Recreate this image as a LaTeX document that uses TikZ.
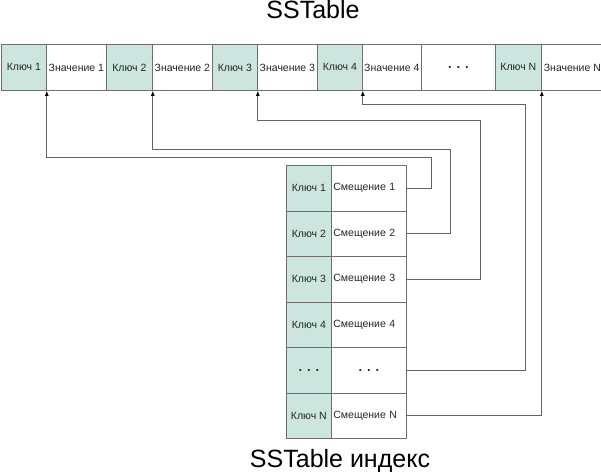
\documentclass[tikz,border=0pt]{standalone}
\usepackage{fontspec}
\setmainfont{Liberation Sans}
\usetikzlibrary{arrows.meta}
\definecolor{keyfill}{RGB}{204,229,222}
\definecolor{bord}{RGB}{110,110,110}
\definecolor{conn}{RGB}{100,100,100}
\begin{document}
\begin{tikzpicture}[x=1pt,y=-1pt,
  cell/.style={draw=bord,line width=0.8pt,inner sep=0pt,anchor=north west,
    minimum height=46pt,font=\fontsize{10.5}{12}\selectfont,text=black!85},
  keycell/.style={cell,fill=keyfill},
  valcell/.style={cell,fill=white},
  offcell/.style={cell,fill=white,minimum height=45.5pt,inner xsep=2pt,text width=71pt,align=left},
  arr/.style={draw=conn,line width=0.8pt,-{Latex[length=5pt,width=4pt,color=black]}},
  dots/.style={font=\fontsize{13}{13}\bfseries\selectfont}]
\useasboundingbox (0,0) rectangle (601,472);
% titles
\node[anchor=base,font=\fontsize{25}{25}\selectfont] (t1) at (313,18.5) {SSTable};
\node[anchor=base,font=\fontsize{25}{25}\selectfont] (t2) at (340,467) {SSTable индекс};
% top row
\node[keycell,minimum width=45pt] (k1) at (1,44) {Ключ 1};
\node[valcell,minimum width=60pt] (v1) at (46,44) {Значение 1};
\node[keycell,minimum width=46pt] (k2) at (106,44) {Ключ 2};
\node[valcell,minimum width=60pt] (v2) at (152,44) {Значение 2};
\node[keycell,minimum width=45pt] (k3) at (212,44) {Ключ 3};
\node[valcell,minimum width=60pt] (v3) at (257,44) {Значение 3};
\node[keycell,minimum width=45pt] (k4) at (317,44) {Ключ 4};
\node[valcell,minimum width=59pt] (v4) at (362,44) {Значение 4};
\node[valcell,minimum width=74pt,dots] (vd) at (421,44) {. . .};
\node[keycell,minimum width=46pt] (kn) at (495,44) {Ключ N};
\node[valcell,minimum width=62pt] (vn) at (541,44) {Значение N};
% index table
\node[keycell,minimum width=45pt,minimum height=45.5pt] (i1) at (286,165) {Ключ 1};
\node[offcell] (o1) at (331,165) {Смещение 1};
\node[keycell,minimum width=45pt,minimum height=45.5pt] (i2) at (286,210.5) {Ключ 2};
\node[offcell] (o2) at (331,210.5) {Смещение 2};
\node[keycell,minimum width=45pt,minimum height=45.5pt] (i3) at (286,256) {Ключ 3};
\node[offcell] (o3) at (331,256) {Смещение 3};
\node[keycell,minimum width=45pt,minimum height=45.5pt] (i4) at (286,301.5) {Ключ 4};
\node[offcell] (o4) at (331,301.5) {Смещение 4};
\node[keycell,minimum width=45pt,minimum height=45.5pt,dots] (id) at (286,347) {. . .};
\node[valcell,minimum width=75pt,minimum height=45.5pt,dots] (od) at (331,347) {. . .\hspace{6pt}};
\node[keycell,minimum width=45pt,minimum height=45.5pt] (in) at (286,392.5) {Ключ N};
\node[offcell] (on) at (331,392.5) {Смещение N};
% bend points
\coordinate (b1) at (431,157);
\coordinate (b2) at (450,149);
\coordinate (b3) at (480,120);
\coordinate (bd) at (525,104);
% connectors
\draw[arr] (o1.east) -| (b1) -| (k1.south east);
\draw[arr] (o2.east) -| (b2) -| (k2.south east);
\draw[arr] (o3.east) -| (b3) -| (k3.south east);
\draw[arr] (od.east) -| (bd) -| (k4.south east);
\draw[arr] (on.east) -| (kn.south east);
\end{tikzpicture}
\end{document}
